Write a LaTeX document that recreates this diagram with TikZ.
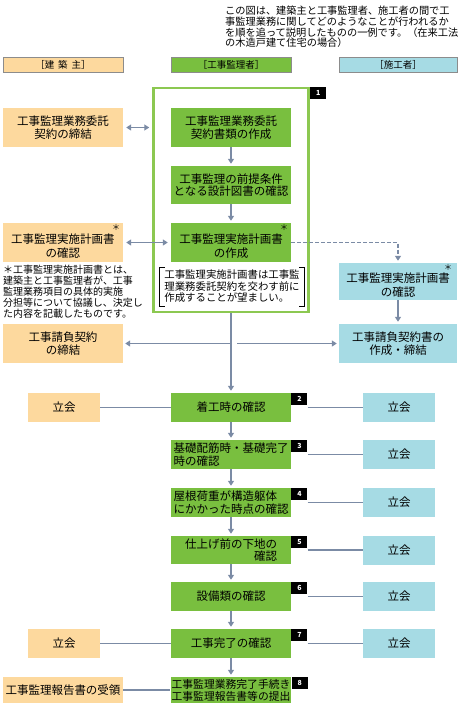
\documentclass[tikz,border=0pt]{standalone}
\usepackage{fontspec}
\setmainfont{Noto Sans CJK JP}
\usepackage{tikz}
\usetikzlibrary{arrows.meta,positioning}
\definecolor{ownerc}{HTML}{FDD99E}
\definecolor{superc}{HTML}{79BF3F}
\definecolor{builderc}{HTML}{A6DBE4}
\definecolor{framec}{HTML}{8CC851}
\definecolor{linkc}{HTML}{7B8BA5}
% text set a little lower in a box, to leave room for the star
\newcommand\lowtext[1]{\raisebox{-5pt}[\height][\depth]{\begin{tabular}{@{}c@{}}#1\end{tabular}}}

\begin{document}
\begin{tikzpicture}[x=1pt,y=-1pt,
  box/.style={minimum width=120pt, minimum height=39pt, inner sep=1pt, align=center,
    font=\fontsize{11.5}{12.5}\selectfont},
  owner/.style={box, fill=ownerc},
  super/.style={box, fill=superc},
  builder/.style={box, fill=builderc, minimum width=118pt},
  stage/.style={box, fill=superc, minimum height=29pt},
  witness/.style={box, minimum width=72pt, minimum height=29pt},
  head/.style={minimum width=120pt, minimum height=15pt, inner sep=0pt,
    font=\fontsize{9.5}{10}\selectfont},
  tag/.style={fill=black, text=white, minimum width=16pt, minimum height=12pt,
    inner sep=0pt, anchor=north west, font=\fontsize{7}{7}\selectfont\bfseries},
  star/.style={inner sep=0pt, font=\fontsize{8}{8}\selectfont},
  flow/.style={draw=linkc, line width=1.5pt, -{Triangle[length=5pt,width=6pt]}, shorten >=2pt},
  both/.style={flow, {Triangle[length=5pt,width=6pt]}-{Triangle[length=5pt,width=6pt]},
    shorten <=3pt, shorten >=3pt},
  link/.style={draw=linkc, line width=1.3pt}
]
\useasboundingbox (0,0) rectangle (459,710);

% explanation at top right
\node[anchor=north west, inner sep=0pt, align=left, font=\fontsize{10.2}{10.7}\selectfont]
  (intro) at (225,6) {この図は、建築主と工事監理者、施工者の間で工\\
  事監理業務に関してどのようなことが行われるか\\
  を順を追って説明したものの一例です。（在来工法\\
  の木造戸建て住宅の場合）};

% column headings
\node[head, fill=ownerc, draw=black!45] (hown) at (63,64.5) {［建\hspace{4pt}築\hspace{4pt}主］};
\node[head, fill=superc, draw=black!45] (hsup) at (231,64.5) {［工事監理者］};
\node[head, fill=builderc, draw=black!45, minimum width=118pt] (hbld) at (398,64.5) {［施工者］};

% stage 1 frame
\node[draw=framec, line width=2.5pt, minimum width=155pt, minimum height=224pt] (frame) at (231,200) {};
\node[tag] (t1) at (310,87) {1};

\node[owner] (l1) at (63,127.5) {工事監理業務委託\\契約の締結};
\node[super] (b1) at (231,127.5) {工事監理業務委託\\契約書類の作成};
\node[super, minimum height=38pt] (b2) at (231,185) {工事監理の前提条件\\となる設計図書の確認};
\node[super] (b3) at (231,242.5) {\lowtext{工事監理実施計画書\\の作成}};
\node[owner] (l2) at (63,242.5) {\lowtext{工事監理実施計画書\\の確認}};
\node[builder, minimum height=37pt] (r1) at (398,281.5) {\lowtext{工事監理実施計画書\\の確認}};
\node[star] (s3star) at (284,227) {＊};
\node[star] (l2star) at (116,227) {＊};
\node[star] (r1star) at (448,267) {＊};

\node[anchor=north west, inner sep=0pt, align=left, font=\fontsize{10}{11}\selectfont]
  (note) at (3,264.5) {＊工事監理実施計画書とは、\\
  建築主と工事監理者が、工事\\
  監理業務項目の具体的実施\\
  分担等について協議し、決定し\\
  た内容を記載したものです。};

\node[minimum width=144pt, minimum height=37pt, inner sep=3pt, align=left,
  font=\fontsize{10.4}{11.5}\selectfont] (memo) at (232,286.5)
  {工事監理実施計画書は工事監\\理業務委託契約を交わす前に\\作成することが望ましい。};
\draw[line width=0.8pt] ([xshift=5pt]memo.north west) -- (memo.north west) -- (memo.south west) -- ([xshift=5pt]memo.south west);
\draw[line width=0.8pt] ([xshift=-5pt]memo.north east) -- (memo.north east) -- (memo.south east) -- ([xshift=-5pt]memo.south east);

\node[owner] (lc) at (63,343.5) {工事請負契約\\の締結};
\node[builder] (rc) at (398,343.5) {工事請負契約書の\\作成・締結};

% flow inside stage 1
\draw[both] (l1.east) -- (l1.east -| frame.west);
\draw[flow] (b1) -- (b2);
\draw[flow] (b2) -- (b3);
\draw[both] (l2.east) -- (b3.west);
\draw[flow, dash pattern=on 4pt off 2pt, line width=1.2pt] (b3.east) -| (r1.north);
\draw[flow] (r1) -- (rc);

\coordinate (split) at (frame.south |- lc.east);
\draw[flow] (split) -- (lc.east);
\draw[flow, shorten <=6pt] (split) -- (rc.west);

% site inspections
\node[stage] (s2) at (231,407.5) {着工時の確認};
\node[stage, align=left] (s3) at (231,454.5) {基礎配筋時・基礎完了\\時の確認};
\node[stage, align=left] (s4) at (231,502.5) {屋根荷重が構造躯体\\にかかった時点の確認};
\node[stage, minimum height=28pt, align=right] (s5) at (231,550) {仕上げ前の下地の\\確認};
\node[stage] (s6) at (231,596.5) {設備類の確認};
\node[stage] (s7) at (231,643.5) {工事完了の確認};
\node[stage, minimum height=26pt, font=\fontsize{10.8}{12}\selectfont] (s8) at (231,690)
  {工事監理業務完了手続き\\工事監理報告書等の提出};

\foreach \i in {2,...,8}
  \node[tag] (t\i) at (s\i.north east) {\i};

\node[witness, fill=ownerc] (w2) at (64,407.5) {立会};
\node[witness, fill=ownerc] (w7) at (64,643.5) {立会};
\node[owner, minimum height=26pt] (w8) at (63,690) {工事監理報告書の受領};
\foreach \i/\y in {2/407.5,3/454.5,4/502.5,5/550,6/596.5,7/643.5}
  \node[witness, fill=builderc] (r\i) at (399,\y) {立会};

\draw[flow] (frame.south) -- (s2.north);
\foreach \i/\j in {2/3,3/4,4/5,5/6,6/7,7/8}
  \draw[flow] (s\i) -- (s\j);
\foreach \i in {2,...,7}
  \draw[link] (t\i.east |- r\i.west) -- (r\i.west);
\draw[link] (w2) -- (s2);
\draw[link] (w7) -- (s7);
\draw[link] (w8) -- (s8);
\end{tikzpicture}
\end{document}
